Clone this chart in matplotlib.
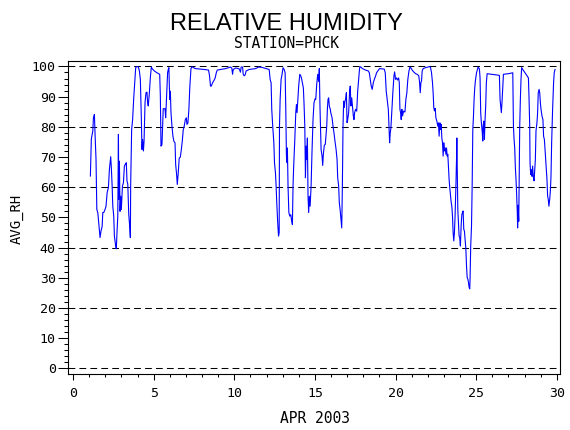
import matplotlib
matplotlib.use('Agg')
import matplotlib.pyplot as plt
from matplotlib.ticker import MultipleLocator

# hourly-ish readings of average relative humidity, station PHCK, April 2003
day = [
    1.07, 1.09, 1.13, 1.22, 1.26, 1.32, 1.36, 1.42, 1.47, 1.53, 1.59, 1.67, 1.73, 1.80, 1.84, 1.90,
    1.98, 2.04, 2.11, 2.19, 2.25, 2.33, 2.37, 2.42, 2.46, 2.52, 2.56, 2.64, 2.68, 2.72, 2.77, 2.81,
    2.83, 2.87, 2.91, 2.95, 2.99, 3.06, 3.12, 3.18, 3.24, 3.30, 3.34, 3.39, 3.45, 3.51, 3.55, 3.57,
    3.63, 3.69, 3.76, 3.82, 3.88, 3.96, 4.05, 4.11, 4.17, 4.23, 4.27, 4.31, 4.36, 4.40, 4.46, 4.52,
    4.58, 4.62, 4.66, 4.73, 4.79, 4.85, 4.91, 5.04, 5.20, 5.37,
    5.41, 5.45, 5.51, 5.55, 5.59, 5.70, 5.74, 5.78, 5.82, 5.86, 5.90, 5.94, 5.99, 6.03, 6.07, 6.13,
    6.19, 6.25, 6.32, 6.36, 6.42, 6.46, 6.52, 6.58, 6.65, 6.71, 6.77, 6.83, 6.89, 6.96, 7.02, 7.06,
    7.12, 7.18, 7.24, 7.31, 7.37, 7.57, 8.13, 8.40, 8.46, 8.52, 8.57, 8.65, 8.75, 8.81, 8.88, 8.94,
    9.16, 9.47, 9.76, 9.84, 9.89, 9.93, 10.09,
    10.30, 10.38, 10.42, 10.51, 10.55, 10.61, 10.67, 10.73, 10.92, 11.33, 11.50, 11.70, 11.95, 12.16,
    12.22, 12.28, 12.32, 12.38, 12.45, 12.49, 12.55, 12.59, 12.63, 12.69, 12.74, 12.78, 12.80, 12.84,
    12.90, 12.96, 13.02, 13.09, 13.15, 13.19, 13.23, 13.27, 13.29, 13.33, 13.38, 13.44, 13.50, 13.54,
    13.60, 13.64, 13.68, 13.75, 13.81, 13.85, 13.89, 13.93, 13.99, 14.06, 14.12, 14.18, 14.22, 14.28,
    14.32, 14.37, 14.41, 14.45, 14.49, 14.53, 14.57, 14.61, 14.65, 14.70, 14.76, 14.82, 14.88, 14.94,
    15.01,
    15.05, 15.11, 15.17, 15.23, 15.27, 15.31, 15.38, 15.44, 15.48, 15.52, 15.58, 15.64, 15.73, 15.77,
    15.81, 15.85, 15.89, 15.95, 15.98, 16.06, 16.12, 16.18, 16.24, 16.31, 16.37, 16.41, 16.47, 16.51,
    16.57, 16.62, 16.66, 16.70, 16.74, 16.78, 16.82, 16.86, 16.90, 16.95, 16.99, 17.03, 17.09, 17.15,
    17.19, 17.23, 17.28, 17.34, 17.38, 17.42, 17.46, 17.52, 17.59, 17.65, 17.71, 17.77, 17.83, 17.94,
    18.14, 18.31, 18.37, 18.43, 18.49, 18.55, 18.62, 18.68, 18.76, 18.82, 18.91, 19.01, 19.30, 19.36,
    19.42, 19.48, 19.55, 19.59, 19.63, 19.67, 19.71, 19.77, 19.83, 19.90, 19.94, 20.00,
    20.06, 20.12, 20.19, 20.23, 20.27, 20.31, 20.35, 20.39, 20.43, 20.50, 20.58, 20.64, 20.70, 20.76,
    20.83, 20.89, 20.95, 21.03, 21.14, 21.24, 21.34, 21.44, 21.49, 21.53, 21.57, 21.61, 21.65, 21.71,
    21.86, 22.00, 22.11, 22.17, 22.23, 22.29, 22.33, 22.37, 22.41, 22.46, 22.50, 22.56, 22.62, 22.66,
    22.70, 22.75, 22.79, 22.83, 22.87, 22.91, 22.95, 22.99, 23.03, 23.08, 23.12, 23.16, 23.20, 23.24,
    23.28, 23.32, 23.36, 23.41, 23.45, 23.49, 23.53, 23.57, 23.61, 23.65, 23.69, 23.74, 23.78, 23.80,
    23.82, 23.86, 23.90, 23.94, 23.98, 24.02, 24.07, 24.11, 24.15, 24.19, 24.23, 24.27, 24.31, 24.36,
    24.40, 24.44, 24.48, 24.52, 24.56, 24.60, 24.62, 24.66, 24.71, 24.75, 24.79, 24.83, 24.87, 24.91,
    24.95, 25.02, 25.08, 25.12,
    25.20, 25.24, 25.28, 25.32, 25.37, 25.41, 25.43, 25.47, 25.51, 25.55, 25.59, 25.63, 25.68, 25.96,
    26.38, 26.44, 26.48, 26.52, 26.56, 26.60, 26.65, 26.69, 27.00, 27.27, 27.31, 27.35, 27.39, 27.43,
    27.47, 27.51, 27.55, 27.57, 27.60, 27.64, 27.66, 27.70, 27.74, 27.78, 27.82, 27.95, 28.03, 28.24,
    28.28, 28.32, 28.34, 28.38, 28.42, 28.46, 28.50, 28.54, 28.59, 28.63, 28.67, 28.71, 28.77, 28.81,
    28.85, 28.90, 28.94, 28.98, 29.02, 29.08, 29.14, 29.18, 29.23, 29.27, 29.31, 29.35, 29.39, 29.43,
    29.47, 29.51, 29.56, 29.60, 29.64, 29.68, 29.74, 29.80, 29.84, 29.89,
]
avg_rh = [
    63.7, 68.0, 76.0, 78.6, 83.0, 84.1, 77.6, 69.2, 52.6, 51.6, 48.2, 43.3, 45.5, 47.0, 51.6, 51.6,
    52.6, 53.7, 58.2, 59.9, 65.9, 70.1, 66.5, 60.4, 53.7, 50.4, 43.8, 40.5, 39.6, 44.9, 50.4, 77.5,
    56.0, 68.6, 52.0, 57.0, 52.6, 60.4, 61.5, 67.0, 67.6, 68.1, 62.1, 61.0, 51.0, 47.0, 43.3, 61.0,
    79.1, 82.4, 89.6, 94.6, 99.6, 100.0, 99.8, 98.5, 95.7, 83.0, 72.5, 75.8, 72.0, 75.3, 88.0, 91.3,
    91.5, 88.0, 86.9, 91.3, 96.3, 99.8, 99.2, 98.5, 97.9, 97.4,
    90.2, 73.6, 74.1, 80.2, 86.0, 86.0, 83.0, 88.0, 93.5, 97.9, 99.0, 99.6, 89.1, 91.8, 84.7, 80.2,
    76.9, 75.2, 74.7, 67.5, 64.2, 60.9, 64.7, 69.6, 70.0, 72.4, 75.2, 79.0, 80.2, 82.4, 83.0, 80.8,
    81.3, 85.8, 93.5, 99.3, 99.9, 99.3, 99.0, 98.8, 96.9, 93.5, 93.5, 94.6, 95.5, 96.2, 97.9, 98.8,
    99.0, 99.3, 99.8, 99.5, 97.4, 99.0, 99.5,
    99.2, 98.1, 99.8, 99.8, 97.4, 96.9, 97.2, 98.5, 99.0, 99.3, 99.8, 99.7, 99.3, 99.0,
    95.7, 94.6, 85.8, 80.2, 74.7, 68.1, 64.7, 60.4, 54.9, 48.2, 43.8, 44.9, 80.2, 89.1,
    95.7, 97.4, 99.6, 99.0, 97.9, 85.8, 70.3, 68.1, 73.0, 60.4, 51.6, 50.4, 50.9, 49.3,
    47.6, 60.4, 67.0, 75.8, 84.7, 87.4, 84.7, 88.0, 93.5, 97.4, 96.9, 95.7, 94.6, 92.9,
    88.0, 80.2, 63.1, 73.6, 69.2, 76.3, 57.0, 51.6, 57.0, 53.7, 60.4, 72.4, 82.4, 88.0,
    89.3,
    89.1, 94.1, 97.4, 95.0, 99.3, 86.9, 72.5, 70.3, 67.2, 70.9, 73.9, 74.2, 80.2, 85.8,
    89.1, 89.6, 86.9, 85.8, 84.7, 83.0, 80.2, 78.0, 75.3, 72.5, 69.2, 63.1, 60.4, 54.9,
    52.0, 48.7, 46.5, 60.4, 80.2, 88.5, 86.4, 88.5, 89.1, 91.3, 81.4, 82.4, 84.7, 91.8,
    93.5, 86.9, 89.6, 85.8, 83.6, 82.4, 84.7, 85.8, 85.2, 91.8, 95.7, 99.6, 99.9, 99.3,
    98.8, 98.5, 97.9, 95.7, 93.5, 92.4, 94.6, 95.7, 96.8, 97.9, 98.6, 99.3, 99.1, 97.9,
    91.8, 89.1, 85.8, 80.2, 74.7, 78.0, 79.6, 85.8, 91.3, 96.9, 98.2, 95.7,
    96.2, 95.5, 96.2, 94.6, 85.8, 84.7, 82.4, 85.8, 83.6, 85.2, 84.9, 89.1, 91.3, 95.7,
    98.5, 99.8, 99.5, 98.8, 98.1, 97.6, 97.4, 96.9, 94.6, 91.3, 94.6, 95.2, 98.5, 99.3,
    99.6, 99.8, 100.0, 99.6, 97.9, 94.6, 91.3, 86.4, 85.3, 86.1, 83.0, 81.9, 80.2, 81.3,
    76.9, 81.3, 79.1, 80.8, 76.3, 74.7, 70.3, 74.7, 72.0, 73.0, 70.9, 73.0, 70.3, 70.9,
    67.0, 62.6, 59.9, 57.1, 54.9, 53.7, 50.4, 44.9, 42.2, 44.9, 50.4, 59.9, 69.2, 76.3,
    68.1, 52.6, 48.2, 43.8, 43.3, 40.5, 47.6, 50.9, 51.6, 52.1, 46.0, 45.5, 42.8, 39.5,
    33.9, 30.1, 29.6, 28.5, 26.9, 26.3, 29.6, 40.5, 47.1, 60.4, 79.0, 83.4, 89.1, 92.9,
    95.2, 97.9, 99.0, 99.8,
    99.2, 96.2, 84.7, 81.4, 78.7, 75.3, 80.2, 81.9, 75.8, 82.4, 86.9, 94.6, 97.6, 97.4,
    97.1, 97.0, 89.1, 86.9, 84.7, 88.0, 93.2, 97.4, 97.6, 97.9, 80.2, 75.8, 73.0, 66.5,
    62.6, 57.6, 51.6, 46.5, 54.0, 48.7, 59.0, 80.2, 89.1, 95.7, 99.6, 98.5, 97.9, 96.2,
    89.1, 80.2, 68.1, 64.2, 65.8, 63.6, 67.0, 63.6, 62.1, 65.8, 69.2, 78.7, 81.4, 84.7,
    91.3, 92.4, 91.3, 88.0, 85.8, 83.6, 82.4, 76.9, 75.8, 72.5, 69.7, 65.8, 62.6, 57.1,
    56.0, 53.7, 56.0, 58.7, 63.6, 74.7, 85.8, 94.6, 97.9, 99.0,
]
ref_lines = [0, 20, 40, 60, 80, 100]

plt.rcParams['font.family'] = ['DejaVu Sans Mono']

fig = plt.figure(figsize=(5.7, 4.3), dpi=100)
ax = fig.add_axes([0.1198, 0.1302, 0.8627, 0.7279])

# dashed reference lines like the SAS vref option
for y in ref_lines:
    ax.axhline(y, color='black', linewidth=0.75, linestyle=(0, (6.5, 4)), zorder=1)
ax.plot(day, avg_rh, color='#0000ff', linewidth=0.8, zorder=2)

ax.set_xlim(-0.3, 30.2)
ax.set_ylim(-1.9, 101.8)
ax.xaxis.set_major_locator(MultipleLocator(5))
ax.xaxis.set_minor_locator(MultipleLocator(1))
ax.yaxis.set_major_locator(MultipleLocator(10))
ax.yaxis.set_minor_locator(MultipleLocator(2))
ax.tick_params(axis='x', which='major', direction='out', length=4.5, width=0.75,
               labelsize=9.5, pad=5)
ax.tick_params(axis='x', which='minor', direction='out', length=2.5, width=0.75)
ax.tick_params(axis='y', which='major', direction='out', length=7, width=0.75,
               labelsize=9.5, pad=2)
ax.tick_params(axis='y', which='minor', direction='out', length=3, width=0.75)
for s in ax.spines.values():
    s.set_linewidth(0.8)
    s.set_color('black')

fig.text(0.502, 0.930, 'RELATIVE HUMIDITY', ha='center', va='baseline', fontsize=17,
         family='Liberation Sans')
fig.text(0.502, 0.888, 'STATION=PHCK', ha='center', va='baseline', fontsize=10.5)
fig.text(0.553, 0.0163, 'APR 2003', ha='center', va='baseline', fontsize=10.5)
fig.text(0.030, 0.491, 'AVG_RH', ha='center', va='center', rotation=90, fontsize=10)

fig.savefig('out.png', dpi=100)
